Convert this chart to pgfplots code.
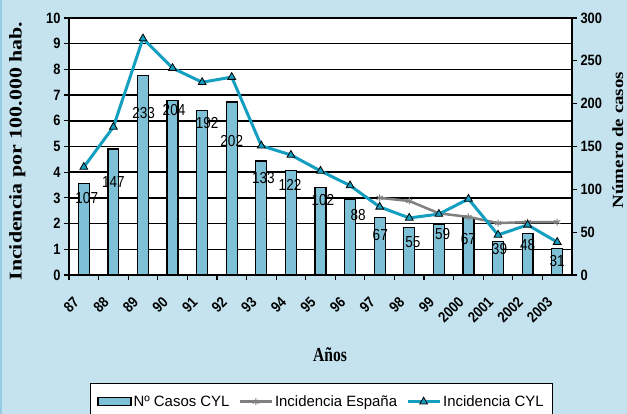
\documentclass[border=0pt]{standalone}
\usepackage{fontspec}
\setmainfont{Liberation Sans}
\newfontfamily\labelfont[FakeStretch=0.85]{Liberation Sans}
\newfontfamily\tickfont[FakeStretch=0.86]{Liberation Sans}
\newfontfamily\titlefont[FakeStretch=0.78]{Liberation Serif}
\newfontfamily\vtitlefont{Liberation Serif}
\usepackage{graphicx}
\usepackage{pgfplots}
\usepackage{pgfplotstable}
\pgfplotsset{compat=1.18}

\newcommand\tl{\tickfont\bfseries\fontsize{15}{17}\selectfont}

\definecolor{fondo}{RGB}{196,227,239}
\definecolor{borde}{RGB}{150,205,228}
\definecolor{barra}{RGB}{126,192,214}
\definecolor{cyl}{RGB}{20,158,192}
\definecolor{esp}{RGB}{128,128,128}

\pgfplotsset{
  lineleg/.style={legend image code/.code={\draw[##1, mark repeat=2, mark phase=2]
    plot coordinates {(0bp,0bp) (16bp,0bp) (32bp,0bp)};}},
  barleg/.style={legend image code/.code={\draw[fill=barra, draw=black, line width=1.2bp]
    (0bp,-4bp) rectangle (33bp,4bp);}},
}

% casos CYL (eje derecho)
\pgfplotstableread{
x casos
0.5 107
1.5 147
2.5 233
3.5 204
4.5 192
5.5 202
6.5 133
7.5 122
8.5 102
9.5 88
10.5 67
11.5 55
12.5 59
13.5 67
14.5 39
15.5 48
16.5 31
}\casos

% incidencia CYL
\pgfplotstableread{
x inc
0.5 4.20
1.5 5.76
2.5 9.20
3.5 8.05
4.5 7.50
5.5 7.70
6.5 5.03
7.5 4.67
8.5 4.05
9.5 3.48
10.5 2.65
11.5 2.22
12.5 2.37
13.5 2.96
14.5 1.56
15.5 1.95
16.5 1.28
}\inccyl

% incidencia Espana
\pgfplotstableread{
x inc
10.5 3.00
11.5 2.88
12.5 2.40
13.5 2.26
14.5 2.02
15.5 2.06
16.5 2.06
}\incesp

% posiciones de las etiquetas
\pgfplotstableread{
x y lab
0.60 3.00 107
1.50 3.60 147
2.52 6.30 233
3.55 6.42 204
4.67 5.92 192
5.50 5.20 202
6.57 3.77 133
7.47 3.50 122
8.58 2.90 102
9.77 2.33 88
10.52 1.56 67
11.62 1.27 55
12.63 1.60 59
13.50 1.40 67
14.55 1.00 39
15.50 1.17 48
16.50 0.54 31
}\etiquetas

\begin{document}
\begin{tikzpicture}
\useasboundingbox (0,0) rectangle (627bp,414bp);
\clip (0,0) rectangle (627bp,414bp);
\fill[fondo] (0,0) rectangle (627bp,414bp);
\fill[borde] (0,0) rectangle (2bp,414bp);

\begin{axis}[
  at={(69bp,139bp)}, anchor=south west,
  scale only axis, width=503bp, height=257bp,
  clip mode=individual,
  xmin=0, xmax=17, ymin=0, ymax=10,
  xtick={0,...,16},
  xticklabels={{\tl 87},{\tl 88},{\tl 89},{\tl 90},{\tl 91},{\tl 92},{\tl 93},{\tl 94},{\tl 95},
    {\tl 96},{\tl 97},{\tl 98},{\tl 99},{\tl 2000},{\tl 2001},{\tl 2002},{\tl 2003}},
  ytick={0,...,10},
  yticklabel={\tl\pgfmathprintnumber{\tick}},
  xtick pos=bottom, ytick pos=left,
  tick align=outside, major tick length=5bp,
  tick style={black, line width=1.2bp},
  axis line style={black, line width=1.8bp},
  ymajorgrids, major grid style={black, line width=1.5bp},
  axis background/.style={fill=white},
  /pgf/number format/assume math mode=true,
  xticklabel style={rotate=45, anchor=east, xshift=-5bp, yshift=-19bp},
  legend columns=3,
  legend style={at={(0.502,-0.42)}, anchor=north, draw=black, line width=1.3bp,
    fill=white, font=\fontsize{15}{18}\selectfont, inner xsep=7bp, inner ysep=10bp,
    /tikz/every even column/.append style={column sep=7bp}},
]
\addplot[ybar, bar width=0.37, bar shift=0pt, fill=barra, draw=black, line width=1.2bp, barleg]
  table[x=x, y expr=\thisrow{casos}/30] {\casos};
\addlegendentry{Nº Casos CYL}

\addplot[draw=none, mark=none, forget plot, nodes near coords, point meta=explicit symbolic,
  nodes near coords style={anchor=center, inner sep=0pt, text=black, font=\labelfont\fontsize{16}{18}\selectfont}]
  table[x=x, y=y, meta=lab] {\etiquetas};

\addplot[color=esp, line width=2.5bp, mark=asterisk, mark size=3.5bp, mark options={line width=1bp}, lineleg]
  table[x=x, y=inc] {\incesp};
\addlegendentry{Incidencia España}

\addplot[color=cyl, line width=3bp, mark=triangle*, mark size=4.5bp,
  mark options={fill=cyl, draw=black, line width=0.8bp}, lineleg]
  table[x=x, y=inc] {\inccyl};
\addlegendentry{Incidencia CYL}

\node[font=\titlefont\bfseries\fontsize{20}{22}\selectfont] at (axis description cs:0.519,-0.311) {Años};
\node[rotate=90, font=\vtitlefont\bfseries\fontsize{22}{24}\selectfont] at (axis description cs:-0.103,0.482)
  {\scalebox{1}[0.82]{Incidencia por 100.000 hab.}};
\end{axis}

\begin{axis}[
  at={(69bp,139bp)}, anchor=south west,
  scale only axis, width=503bp, height=257bp,
  clip mode=individual,
  xmin=0, xmax=17, ymin=0, ymax=300,
  axis x line=none, axis y line*=right,
  ytick={0,50,...,300},
  yticklabel={\tl\pgfmathprintnumber{\tick}},
  tick align=outside, major tick length=5bp,
  tick style={black, line width=1.2bp},
  axis line style={black, line width=1.8bp},
  /pgf/number format/assume math mode=true,
]
\node[rotate=90, font=\vtitlefont\bfseries\fontsize{19}{21}\selectfont] at (axis description cs:1.091,0.525)
  {\scalebox{1}[0.82]{Número de casos}};
\end{axis}
\end{tikzpicture}
\end{document}
